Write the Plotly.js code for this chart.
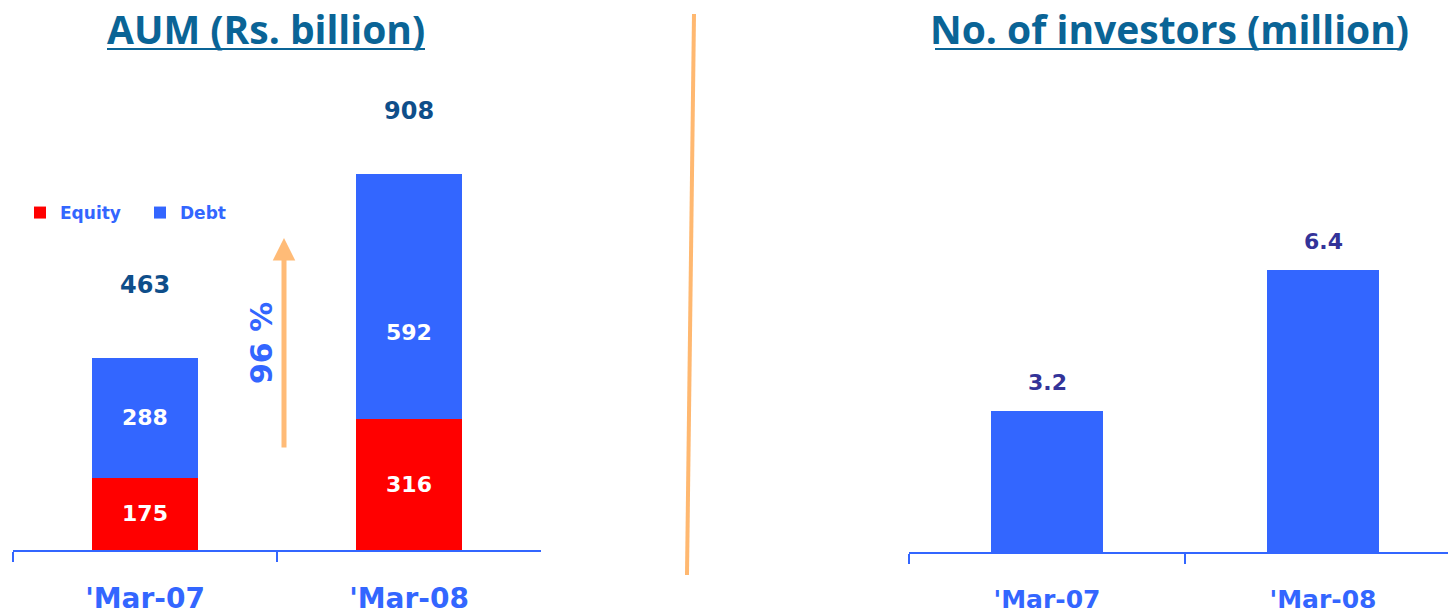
<!DOCTYPE html>
<html>
<head>
<meta charset="utf-8">
<script src="https://cdn.plot.ly/plotly-3.0.1.min.js"></script>
<style>html,body{margin:0;padding:0;background:#fff;}#chart{width:1448px;height:615px;}</style>
</head>
<body>
<div id="chart"></div>
<script>
// ---- data ----
const categories = ["'Mar-07", "'Mar-08"];
const equityAUM = [175, 316];
const debtAUM = [288, 592];
const totalAUM = [463, 908];
const investors = [3.2, 6.4];
const growthLabel = "96 %";
const aumTitle = "AUM (Rs. billion)";
const invTitle = "No. of investors (million)";

// ---- styles ----
const RED = "#FF0000", BLUE = "#3366FF", TITLE = "#0A6496", NAVY = "#0E4E8A", PURPLE = "#333399", ORANGE = "#FFBB77";
const F = "DejaVu Sans, Verdana, sans-serif";
const W = 1448, H = 615;
const px = x => x / W, py = y => (H - y) / H;
const totalShift = [73, 63];
const debtLabelShift = [0, -36];

const traces = [
  {type: "bar", name: "Equity", x: categories, y: equityAUM, marker: {color: RED}, width: 0.405,
   text: equityAUM.map(String), textposition: "inside", insidetextanchor: "middle",
   textfont: {family: F, size: 22, color: "#FFFFFF", weight: "bold"}, xaxis: "x", yaxis: "y", hoverinfo: "none"},
  {type: "bar", name: "Debt", x: categories, y: debtAUM, marker: {color: BLUE}, width: 0.405,
   xaxis: "x", yaxis: "y", hoverinfo: "none"},
  {type: "bar", name: "Investors", x: categories, y: investors, marker: {color: BLUE}, width: 0.405,
   showlegend: false, xaxis: "x2", yaxis: "y2", hoverinfo: "none"}
];

const annotations = [];
debtAUM.forEach((v, i) => annotations.push({x: categories[i], y: equityAUM[i] + v / 2, xref: "x", yref: "y", text: "<b>" + v + "</b>",
  showarrow: false, yshift: debtLabelShift[i], xanchor: "center", yanchor: "middle", font: {family: F, size: 22, color: "#FFFFFF"}}));
totalAUM.forEach((v, i) => annotations.push({x: categories[i], y: v, xref: "x", yref: "y", text: "<b>" + v + "</b>",
  showarrow: false, yshift: totalShift[i], xanchor: "center", yanchor: "middle", font: {family: F, size: 24, color: NAVY}}));
investors.forEach((v, i) => annotations.push({x: categories[i], y: v, xref: "x2", yref: "y2", text: "<b>" + v.toFixed(1) + "</b>",
  showarrow: false, yshift: 29, xanchor: "center", yanchor: "middle", font: {family: F, size: 22, color: PURPLE}}));
// growth arrow
annotations.push({x: px(284), y: py(238), xref: "paper", yref: "paper", ax: px(284), ay: py(449), axref: "paper", ayref: "paper",
  text: "", showarrow: true, arrowhead: 2, arrowsize: 0.9, arrowwidth: 5, arrowcolor: ORANGE});
annotations.push({x: px(261), y: py(343), xref: "paper", yref: "paper", text: "<b>" + growthLabel + "</b>", textangle: -90,
  xanchor: "center", yanchor: "middle", showarrow: false, font: {family: F, size: 30, color: BLUE}});
// titles
annotations.push({x: px(266), y: py(29), xref: "paper", yref: "paper", text: "<b>" + aumTitle + "</b>", showarrow: false,
  xanchor: "center", yanchor: "middle", font: {family: "Open Sans, sans-serif", size: 39, color: TITLE}});
annotations.push({x: px(1169), y: py(29), xref: "paper", yref: "paper", text: "<b>" + invTitle + "</b>", showarrow: false,
  xanchor: "center", yanchor: "middle", font: {family: "Open Sans, sans-serif", size: 39, color: TITLE}});

const shapes = [
  {type: "line", xref: "paper", yref: "paper", x0: px(107), x1: px(425), y0: py(49), y1: py(49), line: {color: TITLE, width: 2}},
  {type: "line", xref: "paper", yref: "paper", x0: px(935), x1: px(1403), y0: py(49), y1: py(49), line: {color: TITLE, width: 2}},
  {type: "line", xref: "paper", yref: "paper", x0: px(694), x1: px(687), y0: py(14), y1: py(575), line: {color: "#FFB870", width: 4}}
];

const xaxisCommon = {type: "category", showline: true, linecolor: BLUE, linewidth: 1.5, ticks: "outside", tickson: "boundaries",
  ticklen: 10, tickcolor: BLUE, tickwidth: 1.5, showgrid: false, zeroline: false, fixedrange: true};

const layout = {
  width: W, height: H, margin: {l: 0, r: 0, t: 0, b: 0}, paper_bgcolor: "#fff", plot_bgcolor: "rgba(0,0,0,0)",
  barmode: "stack", showlegend: true,
  legend: {orientation: "h", x: px(20), y: py(213), xanchor: "left", yanchor: "middle", font: {family: F, size: 17, color: BLUE, weight: "bold"},
           itemwidth: 30, entrywidth: 75, entrywidthmode: "pixels", traceorder: "normal", bgcolor: "rgba(0,0,0,0)"},
  xaxis: Object.assign({}, xaxisCommon, {domain: [px(13), px(541)], range: [-0.5, 1.5], anchor: "y",
    tickfont: {family: F, size: 28, color: BLUE, weight: "bold"}, ticklabelstandoff: 23}),
  yaxis: {domain: [py(550), py(60)], range: [0, 490 / 0.414], visible: false, fixedrange: true, anchor: "x"},
  xaxis2: Object.assign({}, xaxisCommon, {domain: [px(909), 1], range: [-0.5, 1.5 - 13 / 276], anchor: "y2",
    tickfont: {family: F, size: 25, color: BLUE, weight: "bold"}, ticklabelstandoff: 24}),
  yaxis2: {domain: [py(552), py(60)], range: [0, 492 / 44], visible: false, fixedrange: true, anchor: "x2"},
  annotations: annotations, shapes: shapes
};

Plotly.newPlot("chart", traces, layout, {displayModeBar: false, staticPlot: true});
</script>
</body>
</html>
